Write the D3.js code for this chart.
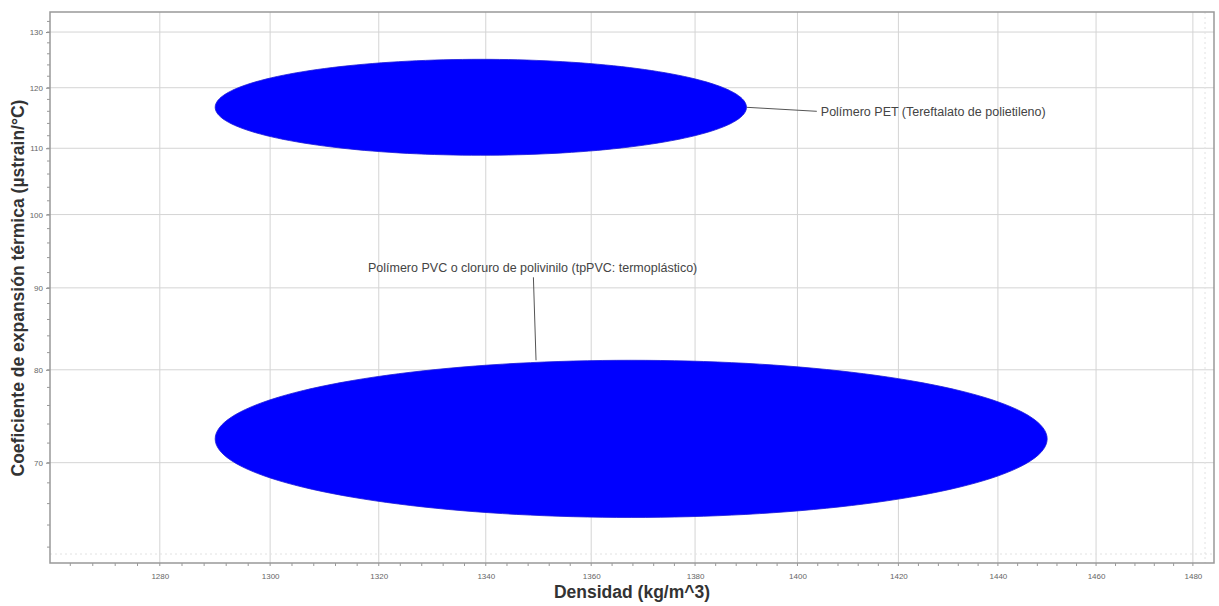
<!DOCTYPE html>
<html>
<head>
<meta charset="utf-8">
<script src="https://cdn.jsdelivr.net/npm/d3@7"></script>
<style>
  html, body { margin: 0; padding: 0; background: #fff; }
  svg { display: block; font-family: "Liberation Sans", Arial, sans-serif; }
</style>
</head>
<body>
<svg id="chart" width="1219" height="606"></svg>
<script>
// Material property ranges: density (kg/m^3) vs thermal expansion (µstrain/°C)
const materials = ["PET", "PVC"];
const labels = [
  "Polímero PET (Tereftalato de polietileno)",
  "Polímero PVC o cloruro de polivinilo (tpPVC: termoplástico)"
];
const densityMin = [1290, 1290];
const densityMax = [1390, 1450];
const expansionMin = [108.9, 64.7];
const expansionMax = [125.0, 81.1];
// label anchor in data units (density, expansion)
const labelDensity = [1404.6, 1318];
const labelExpansion = [116.0, 92.7];

const xTicks = [1280, 1300, 1320, 1340, 1360, 1380, 1400, 1420, 1440, 1460, 1480];
const yTicks = [70, 80, 90, 100, 110, 120, 130];
const xDomain = [1260.4, 1484.4];
const yDomain = [60.6, 133.8];

const svg = d3.select("#chart");
const plotLeft = 50, plotRight = 1214, plotTop = 12, plotBottom = 563;

const x = d3.scaleLog().domain(xDomain).range([plotLeft, plotRight]);
const y = d3.scaleLog().domain(yDomain).range([plotBottom, plotTop]);

// grid
const grid = svg.append("g");
grid.selectAll("line.v").data(xTicks).join("line")
  .attr("x1", d => x(d)).attr("x2", d => x(d))
  .attr("y1", plotTop).attr("y2", plotBottom)
  .attr("stroke", "#d4d4d4").attr("stroke-width", 1);
grid.selectAll("line.h").data(yTicks).join("line")
  .attr("x1", plotLeft).attr("x2", plotRight)
  .attr("y1", d => y(d)).attr("y2", d => y(d))
  .attr("stroke", "#d4d4d4").attr("stroke-width", 1);

// faint dotted inner frame lines
svg.append("line").attr("x1", plotLeft).attr("x2", plotRight)
  .attr("y1", plotBottom - 9).attr("y2", plotBottom - 9)
  .attr("stroke", "#e2e2e2").attr("stroke-dasharray", "2,3");
svg.append("line").attr("x1", plotRight - 9).attr("x2", plotRight - 9)
  .attr("y1", plotTop).attr("y2", plotBottom)
  .attr("stroke", "#e2e2e2").attr("stroke-dasharray", "2,3");

// ellipses drawn in log space
function ellipsePath(i) {
  const lx0 = Math.log(densityMin[i]), lx1 = Math.log(densityMax[i]);
  const ly0 = Math.log(expansionMin[i]), ly1 = Math.log(expansionMax[i]);
  const cx = (lx0 + lx1) / 2, rx = (lx1 - lx0) / 2;
  const cy = (ly0 + ly1) / 2, ry = (ly1 - ly0) / 2;
  const pts = d3.range(0, 181).map(k => {
    const t = k / 180 * 2 * Math.PI;
    return [x(Math.exp(cx + rx * Math.cos(t))), y(Math.exp(cy + ry * Math.sin(t)))];
  });
  return d3.line()(pts) + "Z";
}

// leader lines from the ellipse edge to its label
const edgePoint = [
  [x(densityMax[0]), y(Math.sqrt(expansionMin[0] * expansionMax[0]))],
  [x(1349.5), y(expansionMax[1])]
];
const labelPoint = [
  [x(labelDensity[0]) - 4, y(labelExpansion[0])],
  [x(1349), y(labelExpansion[1]) + 10]
];
svg.selectAll("line.leader").data(materials).join("line")
  .attr("x1", (d, i) => edgePoint[i][0]).attr("y1", (d, i) => edgePoint[i][1])
  .attr("x2", (d, i) => labelPoint[i][0]).attr("y2", (d, i) => labelPoint[i][1])
  .attr("stroke", "#555").attr("stroke-width", 1);

svg.selectAll("path.ell").data(materials).join("path")
  .attr("d", (d, i) => ellipsePath(i))
  .attr("fill", "#0000ff")
  .attr("stroke", "#1a1ad8").attr("stroke-width", 0.8);

svg.selectAll("text.lab").data(materials).join("text")
  .attr("x", (d, i) => x(labelDensity[i]))
  .attr("y", (d, i) => y(labelExpansion[i]))
  .attr("dy", "0.35em")
  .attr("font-size", 12.5).attr("fill", "#444")
  .text((d, i) => labels[i]);

// axes
const xAxis = svg.append("g").attr("transform", `translate(0,${plotBottom})`)
  .call(d3.axisBottom(x).tickValues(xTicks).tickFormat(d3.format("d")).tickSize(0).tickPadding(10));
const yAxis = svg.append("g").attr("transform", `translate(${plotLeft},0)`)
  .call(d3.axisLeft(y).tickValues(yTicks).tickFormat(d3.format("d")).tickSize(4).tickPadding(3));
[xAxis, yAxis].forEach(a => {
  a.select(".domain").remove();
  a.selectAll("text").attr("font-size", 8).attr("fill", "#666")
    .attr("font-family", "\"Liberation Sans\", Arial, sans-serif");
  a.selectAll("line").attr("stroke", "#888");
});

// minor ticks
const xMinor = d3.range(1264, 1484, 4);
svg.append("g").selectAll("line").data(xMinor).join("line")
  .attr("x1", d => x(d)).attr("x2", d => x(d))
  .attr("y1", plotBottom).attr("y2", plotBottom + 3)
  .attr("stroke", "#999");
const yMinor = d3.range(62, 134, 2);
svg.append("g").selectAll("line").data(yMinor).join("line")
  .attr("x1", plotLeft - 3).attr("x2", plotLeft)
  .attr("y1", d => y(d)).attr("y2", d => y(d))
  .attr("stroke", "#999");

// frame
svg.append("rect").attr("x", plotLeft).attr("y", plotTop)
  .attr("width", plotRight - plotLeft).attr("height", plotBottom - plotTop)
  .attr("fill", "none").attr("stroke", "#999").attr("stroke-width", 1.5);

// axis titles
svg.append("text").attr("x", 632).attr("y", 598)
  .attr("text-anchor", "middle").attr("font-size", 17.5).attr("font-weight", "bold")
  .attr("fill", "#333").text("Densidad (kg/m^3)");
svg.append("text")
  .attr("transform", `translate(24,288) rotate(-90)`)
  .attr("text-anchor", "middle").attr("font-size", 17.5).attr("font-weight", "bold")
  .attr("fill", "#333").text("Coeficiente de expansión térmica (µstrain/°C)");
</script>
</body>
</html>
